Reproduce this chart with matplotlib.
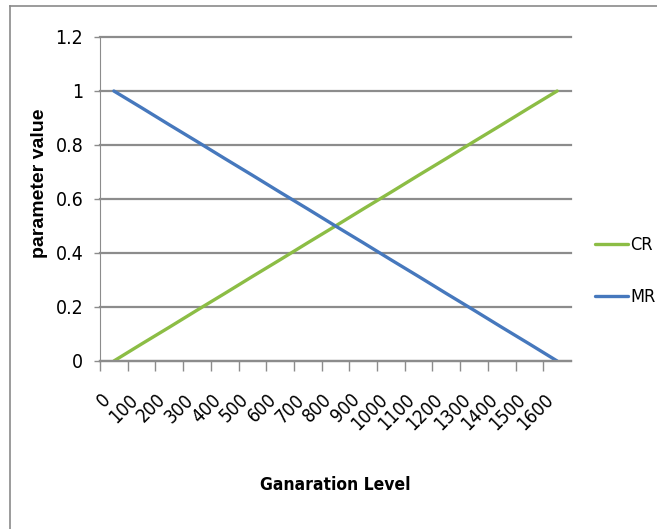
import numpy as np
import matplotlib.pyplot as plt
from matplotlib.lines import Line2D

# generation levels on the category axis
levels = ["0", "100", "200", "300", "400", "500", "600", "700", "800",
          "900", "1000", "1100", "1200", "1300", "1400", "1500", "1600"]

# crossover rate rises, mutation rate falls
cr = [0, 0.063, 0.125, 0.188, 0.25, 0.313, 0.375, 0.438, 0.5,
      0.563, 0.625, 0.688, 0.75, 0.813, 0.875, 0.938, 1.0]
mr = [1.0, 0.938, 0.875, 0.813, 0.75, 0.688, 0.625, 0.563, 0.5,
      0.438, 0.375, 0.313, 0.25, 0.188, 0.125, 0.063, 0]

W, H = 657, 529
txt = dict(family="DejaVu Sans", stretch="condensed")

fig = plt.figure(figsize=(W / 100, H / 100), dpi=100)
ax = fig.add_axes([100 / W, 1 - 361 / H, 471 / W, 324 / H])

x = np.arange(len(levels))
ax.plot(x, cr, color="#8cbd45", lw=2.4, solid_capstyle="round", label="CR")
ax.plot(x, mr, color="#4678bd", lw=2.4, solid_capstyle="round", label="MR")

ax.set_xlim(-0.5, len(levels) - 0.5)
ax.set_ylim(0, 1.2)

# y axis
ax.set_yticks([0, 0.2, 0.4, 0.6, 0.8, 1.0, 1.2])
ax.set_yticklabels(["0", "0.2", "0.4", "0.6", "0.8", "1", "1.2"],
                   fontsize=14, **txt)
ax.tick_params(axis="y", length=4, width=1, color="#8c8c8c", pad=8)
ax.yaxis.grid(True, color="#8c8c8c", lw=1.6)
for gl in ax.get_ygridlines():
    gl.set_clip_on(False)
ax.set_axisbelow(True)

# x axis: labels at category centres, ticks on the boundaries
ax.set_xticks(x)
ax.set_xticklabels(levels, fontsize=13.5, rotation=45,
                   ha="right", va="top", **txt)
ax.tick_params(axis="x", which="major", length=0, pad=21)
ax.set_xticks(np.arange(len(levels)) - 0.5, minor=True)
ax.tick_params(axis="x", which="minor", length=7, width=1, color="#8c8c8c")

for side in ["top", "right"]:
    ax.spines[side].set_visible(False)
ax.spines["left"].set_color("#8c8c8c")
ax.spines["bottom"].set_color("#8c8c8c")
ax.spines["bottom"].set_linewidth(1.6)

ax.set_ylabel("parameter value", fontweight="bold", fontsize=14,
              family="Liberation Sans")
ax.yaxis.set_label_coords(-0.11, 0.55)
ax.set_xlabel("Ganaration Level", fontweight="bold", fontsize=12.5, **txt)
ax.xaxis.set_label_coords(0.5, -0.355)

fig.legend(loc="center left", bbox_to_anchor=(595 / W, 1 - 271 / H),
           frameon=False, prop={"size": 13, **txt},
           handlelength=1.8, handletextpad=0.15, labelspacing=1.9,
           borderpad=0, borderaxespad=0)

# outer chart frame
fig.add_artist(Line2D([10 / W, 10 / W], [0, 1 - 6 / H],
                      transform=fig.transFigure, color="#8a8a8a", lw=1.2))
fig.add_artist(Line2D([10 / W, 1], [1 - 6 / H, 1 - 6 / H],
                      transform=fig.transFigure, color="#8a8a8a", lw=1.2))

fig.savefig("out.png", dpi=100)
